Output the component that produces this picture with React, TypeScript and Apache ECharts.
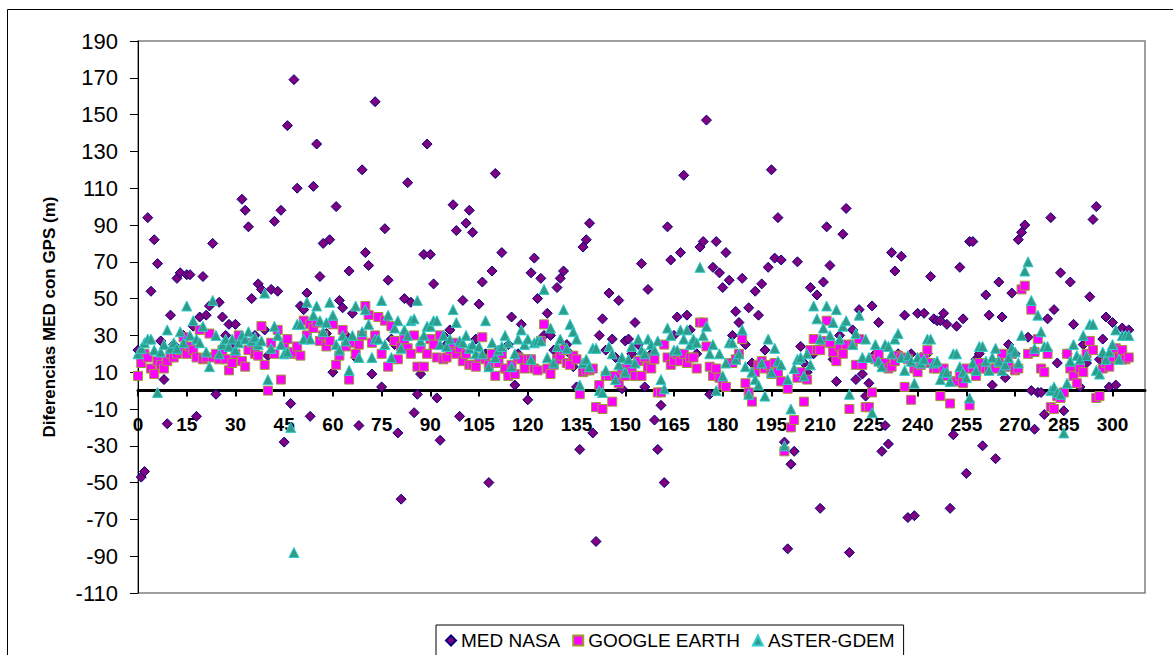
import React, { useEffect, useRef } from "react";
import * as echarts from "echarts";

const FONT = '"Liberation Sans", Arial, Helvetica, sans-serif';

const seriesNames = ["MED NASA", "GOOGLE EARTH", "ASTER-GDEM"];

// values per point index (x = 0 .. 305)
const medNasa = [
  22, -47, -44, 94, 54, 82, 69, 27, 6, -18,
  41, 25, 61, 64, 30, 63, 63, 35, -14, 40,
  62, 41, 46, 80, -2, 48, 40, 30, 36, 25,
  36, 28, 104, 98, 89, 50, 30, 58, 55, 33,
  19, 55, 92, 54, 98, -28, 144, -7, 169, 110,
  46, 44, 53, -14, 111, 134, 62, 80, 31, 82,
  10, 100, 49, 45, 30, 65, 42, 18, -19, 120,
  75, 68, 9, 157, 40, 2, 88, 60, 28, 25,
  -23, -59, 50, 113, 48, -12, -2, 9, 74, 134,
  74, 58, -4, -27, 30, 25, 33, 101, 87, -14,
  49, 91, 98, 86, 28, 47, 59, 20, -50, 65,
  118, 22, 75, 11, 25, 40, 3, 20, 36, 15,
  -5, 64, 72, 50, 61, 30, 42, 30, 22, 56,
  61, 65, 25, 20, 13, 2, -32, 78, 82, 91,
  -23, -82, 30, 39, 22, 53, 28, 18, 49, 1,
  27, 28, 20, 37, 25, 69, 2, 55, 20, -16,
  -32, -8, -50, 89, 71, 30, 40, 75, 117, 41,
  33, 25, 20, 78, 81, 147, -2, 67, 81, 64,
  56, 75, 60, 30, 43, 37, 61, 25, 45, 15,
  54, 41, 58, 22, 67, 120, 72, 94, 71, -28,
  -86, -40, -33, 70, 24, 15, 10, 56, 20, 52,
  -64, 59, 89, 68, 17, 5, 30, 85, 99, -88,
  33, 6, 44, 9, -3, 4, 46, 20, 37, -33,
  -19, -29, 75, 65, 20, 73, 41, -69, 20, -68,
  42, 18, 42, 20, 62, 39, 38, 38, 42, 36,
  -64, -24, 35, 67, 39, -45, 81, 81, 17, 20,
  -30, 52, 41, 3, -37, 59, 40, 7, 25, 53,
  20, 82, 86, 90, 29, 0, -21, -1, -1, -13,
  39, 94, 44, 15, 64, -11, 20, 59, 36, 12,
  2, 25, 15, 51, 93, 100, 17, 28, 40, 2,
  37, 3, 20, 34, 17, 33,
];

const googleEarth = [
  8, 15, 20, 18, 12, 9, 16, 14, 12, 16,
  20, 18, 20, 22, 29, 20, 24, 22, 18, 33,
  17, 18, 31, 18, 20, 17, 22, 17, 11, 15,
  20, 30, 16, 13, 22, 26, 20, 19, 35, 14,
  0, 26, 20, 33, 6, 25, 28, 20, 21, 24,
  19, 38, 30, 36, 34, 37, 27, 30, 24, 27,
  36, 14, 19, 33, 24, 6, 26, 20, 25, 30,
  46, 41, 26, 30, 40, 20, 38, 13, 35, 27,
  17, 24, 28, 23, 20, 30, 13, 23, 13, 20,
  28, 25, 18, 30, 17, 18, 22, 26, 20, 23,
  16, 20, 14, 14, 13, 18, 29, 17, 14, 20,
  8, 15, 20, 12, 8, 14, 9, 18, 17, 12,
  17, 17, 12, 11, 27, 36, 12, 9, 14, 17,
  19, 22, 15, 14, 19, 17, -2, 10, 11, 11,
  12, -9, 3, -10, 8, 8, -6, 8, 4, 12,
  8, 14, 10, 8, 16, 8, 18, 13, 12, 17,
  -1, -1, 25, 18, 14, 16, 20, 16, 20, 15,
  18, 18, 12, 37, 37, 24, 13, 8, 12, 7,
  3, 2, 15, 15, 17, 20, 28, 4, -1, -6,
  10, 14, 16, 12, 14, 9, 15, 10, 5, -33,
  1, -20, -16, 7, 10, -6, 6, 22, 28, 22,
  22, 27, 38, 26, 21, 16, 24, 20, 25, -10,
  25, 14, 28, 14, -9, -9, -1, 17, 20, 15,
  15, 12, 13, 16, 19, 18, 2, 17, -5, 12,
  10, 14, 18, 22, 15, 12, 12, -3, 12, 8,
  -7, 5, 5, 8, 4, 12, -8, 12, 8, 15,
  12, 12, 12, 12, 12, 15, 20, 13, 13, 20,
  11, 12, 55, 57, 20, 44, 21, 28, 12, 10,
  20, -9, -10, -3, -4, -1, 20, 12, 8, 4,
  12, 10, 20, 27, 22, -4, -3, 12, 15, 13,
  18, 23, 18, 22, 17, 18,
];

const asterGdem = [
  20, 23, 26, 28, 28, 22, -1, 21, 25, 33,
  23, 26, 23, 32, 26, 46, 30, 38, 28, 26,
  35, 21, 13, 49, 30, 20, 25, 28, 24, 28,
  22, 26, 30, 28, 32, 27, 29, 25, 27, 53,
  6, 23, 35, 30, 25, 20, 21, -20, -88, 36,
  36, 28, 48, 28, 41, 46, 38, 32, 37, 48,
  41, 25, 22, 30, 27, 11, 30, 46, 18, 32,
  44, 36, 18, 28, 28, 49, 25, 41, 18, 34,
  38, 23, 33, 30, 38, 39, 49, 27, 30, 35,
  35, 38, 38, 25, 30, 24, 28, 44, 37, 27,
  26, 30, 23, 25, 20, 24, 20, 38, 13, 26,
  18, 22, 24, 30, 26, 13, 20, 28, 33, 25,
  28, 17, 26, 27, 27, 55, 18, 34, 15, 24,
  28, 44, 23, 36, 32, 28, 3, 15, 17, 13,
  23, 23, 0, -1, 11, 24, 20, 6, 14, 18,
  10, 17, 24, 15, 28, 22, 20, 28, 25, 22,
  27, 6, 1, 34, 30, 22, 22, 33, 28, 33,
  25, 28, 26, 67, 30, 35, 20, 25, 0, 20,
  8, 15, 26, 26, 17, 20, 33, 13, -2, 10,
  6, 3, 15, -3, 28, 10, 23, 16, 14, -30,
  6, -10, 12, 17, 18, 8, 20, 14, 46, 39,
  28, 34, 46, 30, 37, 44, 28, 35, 38, -2,
  25, 31, 41, 18, 28, 18, -12, 25, 16, 13,
  25, 24, 20, 28, 31, 18, 11, 19, 16, 4,
  18, 15, 17, 28, 28, 15, 16, 6, 10, 10,
  5, 20, 20, 13, 10, 7, -4, 15, 11, 24,
  24, 16, 11, 18, 23, 16, 11, 14, 18, 23,
  21, 15, 30, 65, 70, 49, 23, 41, 32, 24,
  24, 0, 2, -1, -2, -23, 4, 16, 25, 19,
  17, 30, 19, 36, 36, 11, 9, 21, 17, 21,
  25, 33, 17, 30, 30, 30,
];

const yAxisName = "Diferencias MED con GPS (m)";

const Y_MIN = -110;
const Y_MAX = 190;
const GRID_TOP = 41;
const GRID_HEIGHT = 552;

export default function App() {
  const ref = useRef<HTMLDivElement>(null);

  useEffect(() => {
    if (!ref.current) return;
    const chart = echarts.init(ref.current, null, { renderer: "svg" });
    const toPoints = (arr: number[]) => arr.map((v, i) => [i, v]);
    // distance from the grid bottom up to the value 0 (x axis drawn there)
    const zeroOffset = -(GRID_HEIGHT * (0 - Y_MIN)) / (Y_MAX - Y_MIN);

    chart.setOption({
      animation: false,
      backgroundColor: "#ffffff",
      textStyle: { fontFamily: FONT },
      graphic: [
        {
          type: "rect",
          shape: { x: 7.5, y: 9.5, width: 1200, height: 700 },
          style: { fill: "none", stroke: "#000000", lineWidth: 1 },
          silent: true,
          z: -10,
        },
      ],
      grid: {
        left: 138,
        top: GRID_TOP,
        width: 1007,
        height: GRID_HEIGHT,
        show: true,
        borderColor: "#808080",
        borderWidth: 1.5,
        backgroundColor: "#ffffff",
      },
      xAxis: {
        type: "value",
        min: 0,
        max: 310,
        interval: 15,
        position: "bottom",
        offset: zeroOffset,
        axisLine: { show: true, onZero: false, lineStyle: { color: "#000000", width: 3 } },
        axisTick: { show: true, length: 6, lineStyle: { color: "#000000", width: 2 } },
        axisLabel: {
          fontSize: 19,
          fontWeight: "bold",
          color: "#000000",
          fontFamily: FONT,
          margin: 24,
          showMaxLabel: false,
        },
        splitLine: { show: false },
      },
      yAxis: {
        type: "value",
        min: Y_MIN,
        max: Y_MAX,
        interval: 20,
        name: yAxisName,
        nameLocation: "middle",
        nameGap: 80,
        nameRotate: 90,
        nameTextStyle: { fontSize: 17, fontWeight: "bold", color: "#000000", fontFamily: FONT },
        axisLine: { show: true, onZero: false, lineStyle: { color: "#000000", width: 1 } },
        axisTick: { show: true, length: 8, lineStyle: { color: "#000000", width: 1 } },
        axisLabel: { fontSize: 22, color: "#000000", margin: 20, fontFamily: FONT },
        splitLine: { show: false },
      },
      legend: {
        left: 436,
        top: 625,
        orient: "horizontal",
        itemWidth: 10,
        itemHeight: 10,
        itemGap: 12,
        padding: [6, 9, 6, 9],
        borderColor: "#000000",
        borderWidth: 1,
        backgroundColor: "#ffffff",
        textStyle: { fontSize: 19, color: "#000000", fontFamily: FONT },
        data: [
          { name: seriesNames[0], icon: "diamond" },
          { name: seriesNames[1], icon: "rect" },
          { name: seriesNames[2], icon: "triangle" },
        ],
      },
      series: [
        {
          name: seriesNames[0],
          type: "scatter",
          symbol: "diamond",
          symbolSize: 10,
          data: toPoints(medNasa),
          itemStyle: { color: "#800080", borderColor: "#000080", borderWidth: 1, opacity: 1 },
        },
        {
          name: seriesNames[1],
          type: "scatter",
          symbol: "rect",
          symbolSize: 9,
          data: toPoints(googleEarth),
          itemStyle: { color: "#ff00ff", borderColor: "#9c9a2e", borderWidth: 1, opacity: 1 },
        },
        {
          name: seriesNames[2],
          type: "scatter",
          symbol: "triangle",
          symbolSize: 10,
          data: toPoints(asterGdem),
          itemStyle: { color: "#2e9c88", borderColor: "#33cccc", borderWidth: 1, opacity: 1 },
        },
      ],
    });

    return () => chart.dispose();
  }, []);

  return (
    <div
      ref={ref}
      style={{ position: "fixed", left: 0, top: 0, width: 1173, height: 655, background: "#ffffff" }}
    />
  );
}
